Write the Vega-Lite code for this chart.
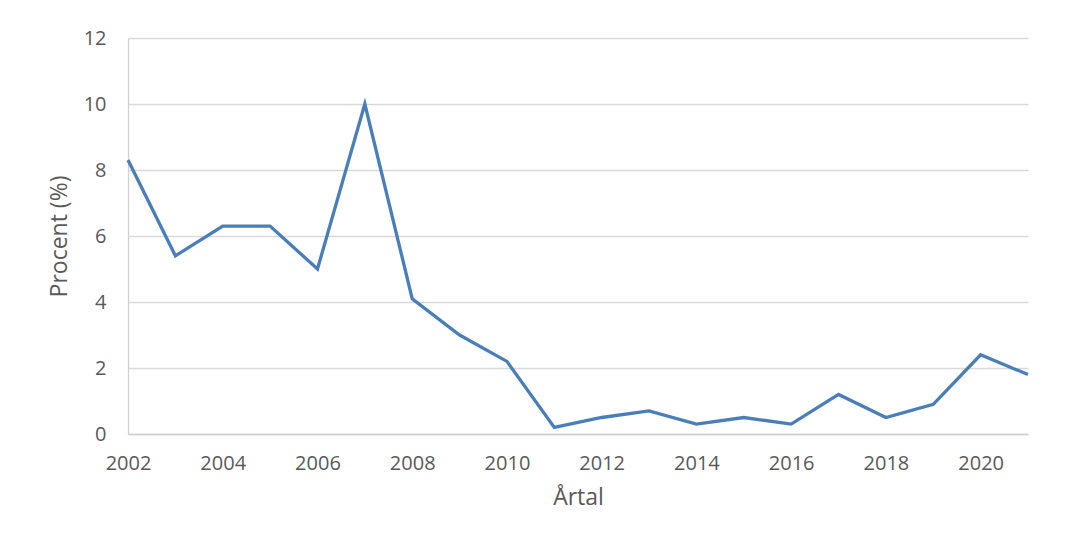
{
  "$schema": "https://vega.github.io/schema/vega-lite/v6.json",
  "autosize": "none",
  "width": 900,
  "height": 396,
  "padding": {"left": 128, "top": 38, "right": 43, "bottom": 113},
  "background": "white",
  "config": {
    "view": {"stroke": null},
    "font": "Open Sans",
    "axis": {
      "labelFont": "Open Sans",
      "titleFont": "Open Sans",
      "labelColor": "#595959",
      "titleColor": "#595959",
      "labelFontSize": 20,
      "titleFontSize": 23,
      "titleFontWeight": "normal",
      "gridColor": "#d9d9d9",
      "gridWidth": 1.3,
      "domainColor": "#d0d0d0",
      "domainWidth": 1.3,
      "ticks": false
    }
  },
  "data": {
    "values": [
      {"year": 2002, "pct": 8.3},
      {"year": 2003, "pct": 5.4},
      {"year": 2004, "pct": 6.3},
      {"year": 2005, "pct": 6.3},
      {"year": 2006, "pct": 5.0},
      {"year": 2007, "pct": 10.0},
      {"year": 2008, "pct": 4.1},
      {"year": 2009, "pct": 3.0},
      {"year": 2010, "pct": 2.2},
      {"year": 2011, "pct": 0.2},
      {"year": 2012, "pct": 0.5},
      {"year": 2013, "pct": 0.7},
      {"year": 2014, "pct": 0.3},
      {"year": 2015, "pct": 0.5},
      {"year": 2016, "pct": 0.3},
      {"year": 2017, "pct": 1.2},
      {"year": 2018, "pct": 0.5},
      {"year": 2019, "pct": 0.9},
      {"year": 2020, "pct": 2.4},
      {"year": 2021, "pct": 1.8}
    ]
  },
  "mark": {"type": "line", "color": "#4a7ebb", "strokeWidth": 3.3, "strokeJoin": "miter"},
  "encoding": {
    "x": {
      "field": "year",
      "type": "quantitative",
      "title": "Årtal",
      "scale": {"domain": [2002, 2021], "nice": false, "zero": false},
      "axis": {
        "values": [2002, 2004, 2006, 2008, 2010, 2012, 2014, 2016, 2018, 2020],
        "format": "d",
        "grid": false,
        "labelPadding": 19,
        "titlePadding": 13,
        "labelFlush": false
      }
    },
    "y": {
      "field": "pct",
      "type": "quantitative",
      "title": "Procent (%)",
      "scale": {"domain": [0, 12], "nice": false},
      "axis": {
        "values": [0, 2, 4, 6, 8, 10, 12],
        "labelPadding": 22,
        "titlePadding": 12,
        "domain": true
      }
    }
  }
}
